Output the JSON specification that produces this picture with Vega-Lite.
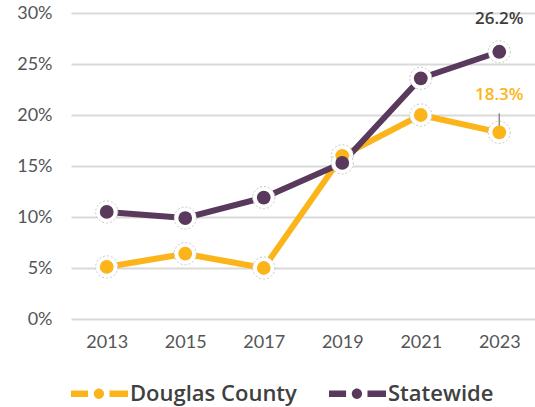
{
  "$schema": "https://vega.github.io/schema/vega-lite/v6.json",
  "width": 464,
  "height": 306,
  "autosize": {"type": "none"},
  "padding": {"left": 71, "top": 13, "right": 0, "bottom": 88},
  "background": "white",
  "config": {
    "view": {"stroke": null},
    "font": "Lato",
    "axis": {"labelFont": "Lato", "labelColor": "#555555", "labelFontSize": 18}
  },
  "data": {
    "values": [
      {"year": "2013", "series": "Douglas County", "value": 5.1},
      {"year": "2015", "series": "Douglas County", "value": 6.4},
      {"year": "2017", "series": "Douglas County", "value": 5.0},
      {"year": "2019", "series": "Douglas County", "value": 16.0},
      {"year": "2021", "series": "Douglas County", "value": 20.0},
      {"year": "2023", "series": "Douglas County", "value": 18.3},
      {"year": "2013", "series": "Statewide", "value": 10.5},
      {"year": "2015", "series": "Statewide", "value": 9.9},
      {"year": "2017", "series": "Statewide", "value": 11.9},
      {"year": "2019", "series": "Statewide", "value": 15.3},
      {"year": "2021", "series": "Statewide", "value": 23.6},
      {"year": "2023", "series": "Statewide", "value": 26.2}
    ]
  },
  "encoding": {
    "x": {
      "field": "year", "type": "ordinal",
      "scale": {"type": "point", "padding": 0.455},
      "axis": {"title": null, "domain": false, "ticks": false, "labelAngle": 0, "labelPadding": 14, "grid": false}
    },
    "y": {
      "field": "value", "type": "quantitative",
      "scale": {"domain": [0, 30]},
      "axis": {"title": null, "domain": false, "ticks": false, "values": [0, 5, 10, 15, 20, 25, 30], "labelExpr": "datum.value + '%'", "labelPadding": 19, "gridColor": "#d9d9d9", "gridWidth": 2}
    },
    "color": {
      "field": "series", "type": "nominal",
      "scale": {"domain": ["Douglas County", "Statewide"], "range": ["#FBB51A", "#5A3A5C"]},
      "legend": null
    }
  },
  "layer": [
    {"mark": {"type": "line", "strokeWidth": 6}},
    {"mark": {"type": "point", "filled": true, "fill": "white", "size": 490, "stroke": "#c8c8c8", "strokeWidth": 1, "strokeDash": [2, 2], "opacity": 1}},
    {
      "transform": [{"filter": "datum.year == '2023' && datum.series == 'Douglas County'"}],
      "mark": {"type": "rule", "color": "#8a8a8a", "strokeWidth": 1.5, "yOffset": -3, "y2Offset": -19},
      "encoding": {"y2": {"field": "value"}, "color": {"value": "#8a8a8a"}}
    },
    {
      "mark": {"type": "point", "filled": true, "size": 190, "opacity": 1},
      "encoding": {
        "color": {
          "field": "series", "type": "nominal",
          "scale": {"domain": ["Douglas County", "Statewide"], "range": ["#FBB51A", "#5A3A5C"]},
          "legend": {
            "title": null, "orient": "bottom", "direction": "horizontal",
            "symbolType": "M-1,-0.11 L-0.4,-0.11 L-0.4,0.11 L-1,0.11 Z M0.35,-0.11 L1,-0.11 L1,0.11 L0.35,0.11 Z M-0.2,0 A0.18,0.18 0 1,0 0.16,0 A0.18,0.18 0 1,0 -0.2,0 Z",
            "symbolSize": 3249, "symbolStrokeWidth": 0, "symbolOpacity": 1,
            "labelFont": "Open Sans", "labelFontSize": 22, "labelFontWeight": 600, "labelColor": "#404040",
            "labelLimit": 300,
            "columnPadding": 32, "labelOffset": 2, "offset": 14
          }
        }
      }
    },
    {
      "transform": [
        {"filter": "datum.year == '2023' && datum.series == 'Statewide'"},
        {"calculate": "format(datum.value, '.1f') + '%'", "as": "label"}
      ],
      "mark": {"type": "text", "fontWeight": 600, "fontSize": 17, "baseline": "bottom", "dy": -24, "font": "Open Sans", "color": "#3d3d3d"},
      "encoding": {
        "text": {"field": "label", "type": "nominal"},
        "color": {"value": "#3d3d3d"}
      }
    },
    {
      "transform": [
        {"filter": "datum.year == '2023' && datum.series == 'Douglas County'"},
        {"calculate": "format(datum.value, '.1f') + '%'", "as": "label"}
      ],
      "mark": {"type": "text", "fontWeight": 600, "fontSize": 17, "baseline": "bottom", "dy": -28, "font": "Open Sans", "color": "#FBB51A"},
      "encoding": {
        "text": {"field": "label", "type": "nominal"},
        "color": {"value": "#FBB51A"}
      }
    }
  ],
  "resolve": {"scale": {"color": "independent"}}
}
